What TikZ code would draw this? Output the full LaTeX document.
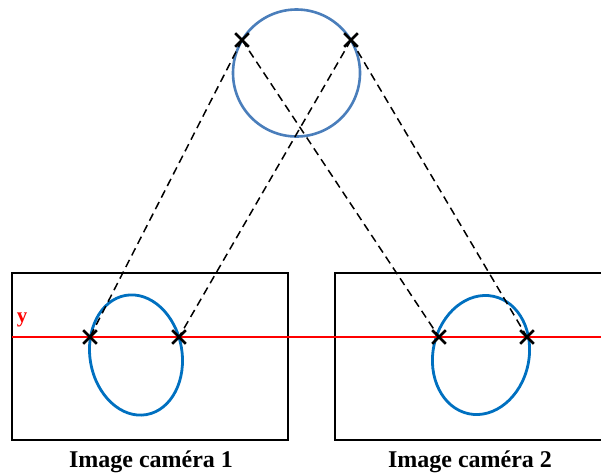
\documentclass[tikz,border=0pt]{standalone}
\usepackage{fontspec}
\setmainfont{Liberation Serif}
\usepackage{xcolor}
\usetikzlibrary{shapes.misc}

\definecolor{cercle}{HTML}{4A7EBB}
\definecolor{ellipse}{HTML}{0070C0}

\tikzset{
  croix/.style={cross out,draw=black,line width=2.6pt,minimum size=11pt,inner sep=0pt},
  rayon/.style={dashed,dash pattern=on 8pt off 5pt,line width=1.5pt},
  cadre/.style={draw=black,line width=2.4pt},
  legende/.style={font=\bfseries\fontsize{24}{26}\selectfont}
}

\begin{document}
\begin{tikzpicture}[x=1pt,y=-1pt]
  \useasboundingbox (0,0) rectangle (601,475);
  % objet vu par les deux cameras
  \draw[cercle,line width=2.6pt] (296.5,73) circle (63.5);
  % images
  \draw[cadre] (12,273) rectangle (288,440);
  \draw[cadre] (335,273) rectangle (610,440);
  \draw[ellipse,line width=2.8pt] (136,355) ellipse[x radius=46,y radius=60.5,rotate=10];
  \draw[ellipse,line width=2.8pt] (481,355) ellipse[x radius=48,y radius=60,rotate=-12];
  % ligne epipolaire
  \draw[red,line width=2.8pt] (12,337) -- (601,337);
  \node[red,font=\bfseries\fontsize{21}{22}\selectfont] (ylab) at (22,320) {y};
  % points
  \node[croix] (p1) at (242,40) {};
  \node[croix] (p2) at (351,40) {};
  \node[croix] (g1) at (90,337) {};
  \node[croix] (g2) at (179,337) {};
  \node[croix] (d1) at (439,337) {};
  \node[croix] (d2) at (527,337) {};
  \draw[rayon] (p1.center) -- (g1.center);
  \draw[rayon] (p2.center) -- (g2.center);
  \draw[rayon] (p1.center) -- (d1.center);
  \draw[rayon] (p2.center) -- (d2.center);
  \node[legende] (cam1) at (151,462) {Image caméra 1};
  \node[legende] (cam2) at (470,462) {Image caméra 2};
\end{tikzpicture}
\end{document}
